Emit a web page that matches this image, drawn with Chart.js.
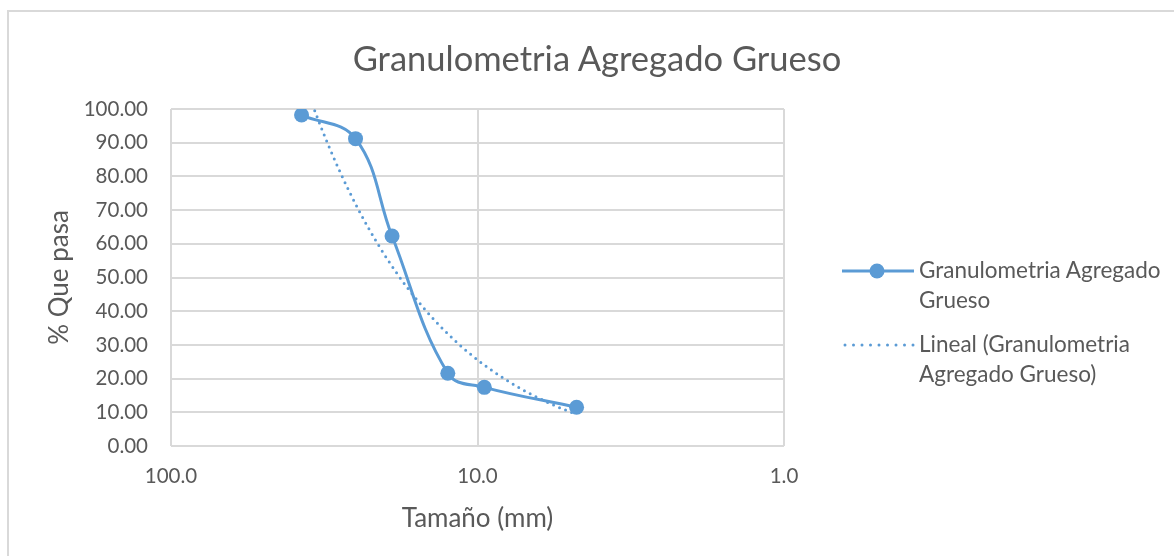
<!DOCTYPE html>
<html>
<head>
<meta charset="utf-8">
<script src="https://cdn.jsdelivr.net/npm/chart.js@4"></script>
<style>
  html, body { margin: 0; padding: 0; background: #fff; }
  #wrap { position: relative; width: 1174px; height: 556px; overflow: hidden; font-family: Lato, "Open Sans", sans-serif; color: #595959; }
  #frame { position: absolute; left: 7px; top: 10px; width: 1180px; height: 560px; border-top: 2px solid #d9d9d9; border-left: 2px solid #d9d9d9; box-sizing: border-box; }
  #chart { position: absolute; left: 0; top: 0; }
  #title { position: absolute; left: 0; width: 1194px; top: 36px; text-align: center; font-size: 34.5px; line-height: 44px; white-space: nowrap; }
  .leg { position: absolute; left: 842px; font-size: 22.5px; line-height: 30px; }
  .leg .txt { position: absolute; left: 77px; top: 0; white-space: nowrap; }
  .leg canvas { position: absolute; left: 0; }
</style>
</head>
<body>
<div id="wrap">
  <div id="frame"></div>
  <canvas id="chart" width="1174" height="556"></canvas>
  <div id="title">Granulometria Agregado Grueso</div>
  <div class="leg" style="top:255px"><canvas id="legA" width="74" height="30" style="top:1px"></canvas><div class="txt">Granulometria Agregado<br>Grueso</div></div>
  <div class="leg" style="top:329px"><canvas id="legB" width="74" height="30" style="top:1px"></canvas><div class="txt">Lineal (Granulometria<br>Agregado Grueso)</div></div>
</div>
<script>
// Sieve openings (mm) and cumulative percent passing
const sizesMm = [37.5, 25, 19, 12.5, 9.5, 4.75];
const percentPassing = [98.2, 91.2, 62.3, 21.6, 17.4, 11.5];
const xTickValues = [100, 10, 1];
const seriesName = 'Granulometria Agregado Grueso';
const trendName = 'Lineal (Granulometria Agregado Grueso)';

const blue = '#5B9BD5';
const grid = '#d9d9d9';
const ink = '#595959';

// Least-squares linear trend (percent vs. size in mm), drawn as a curve on the log axis
function linearFit(xs, ys) {
  const n = xs.length;
  const mx = xs.reduce((a, b) => a + b, 0) / n;
  const my = ys.reduce((a, b) => a + b, 0) / n;
  let sxy = 0, sxx = 0;
  for (let i = 0; i < n; i++) { sxy += (xs[i] - mx) * (ys[i] - my); sxx += (xs[i] - mx) ** 2; }
  const slope = sxy / sxx;
  return { slope, intercept: my - slope * mx };
}
const fit = linearFit(sizesMm, percentPassing);
const xHi = Math.max(...sizesMm), xLo = Math.min(...sizesMm);
const trendPts = [];
for (let i = 0; i <= 80; i++) {
  const x = xHi * Math.pow(xLo / xHi, i / 80);
  trendPts.push({ x, y: fit.slope * x + fit.intercept });
}

const measured = sizesMm.map((x, i) => ({ x, y: percentPassing[i] }));

new Chart(document.getElementById('chart'), {
  type: 'line',
  data: {
    datasets: [
      {
        label: seriesName,
        data: measured,
        borderColor: blue,
        backgroundColor: blue,
        borderWidth: 3,
        tension: 0.4,
        pointRadius: 7.5,
        pointHoverRadius: 7.5,
        pointBackgroundColor: blue,
        pointBorderColor: blue,
        pointBorderWidth: 0,
        order: 1
      },
      {
        label: trendName,
        data: trendPts,
        borderColor: blue,
        borderWidth: 3,
        borderDash: [0, 6.5],
        borderCapStyle: 'round',
        pointRadius: 0,
        tension: 0,
        order: 2
      }
    ]
  },
  options: {
    responsive: false,
    animation: false,
    layout: { padding: { left: 40, top: 109, right: 390, bottom: 18 } },
    plugins: { legend: { display: false }, title: { display: false }, tooltip: { enabled: false } },
    scales: {
      x: {
        type: 'logarithmic',
        reverse: true,
        min: 1,
        max: 100,
        afterBuildTicks: (s) => { s.ticks = xTickValues.map(v => ({ value: v })); },
        afterFit: (s) => { s.height = 92; },
        ticks: {
          color: ink,
          font: { family: 'Lato', size: 20.5 },
          padding: 18,
          maxRotation: 0,
          autoSkip: false,
          callback: (v) => Number(v).toFixed(1)
        },
        grid: { color: grid, lineWidth: 2, drawTicks: false },
        border: { display: false },
        title: { display: true, text: 'Tamaño (mm)', color: ink, font: { family: 'Lato', size: 26 }, padding: { top: 4, bottom: 4 } }
      },
      y: {
        min: 0,
        max: 100,
        afterFit: (s) => { s.width = 131; },
        ticks: {
          stepSize: 10,
          color: ink,
          font: { family: 'Lato', size: 20.5 },
          padding: 23,
          callback: (v) => Number(v).toFixed(2)
        },
        grid: { color: grid, lineWidth: 2, drawTicks: false },
        border: { display: false },
        title: { display: true, text: '% Que pasa', color: ink, font: { family: 'Lato', size: 26 }, padding: { top: 4, bottom: 4 } }
      }
    }
  }
});

// Legend swatches
(function () {
  const a = document.getElementById('legA').getContext('2d');
  a.strokeStyle = blue; a.lineWidth = 3; a.lineCap = 'butt';
  a.beginPath(); a.moveTo(0, 15); a.lineTo(72, 15); a.stroke();
  a.fillStyle = blue; a.beginPath(); a.arc(35, 15, 7.5, 0, Math.PI * 2); a.fill();
  const b = document.getElementById('legB').getContext('2d');
  b.strokeStyle = blue; b.lineWidth = 3; b.lineCap = 'round'; b.setLineDash([0, 8.5]);
  b.beginPath(); b.moveTo(3, 15); b.lineTo(72, 15); b.stroke();
})();
</script>
</body>
</html>
